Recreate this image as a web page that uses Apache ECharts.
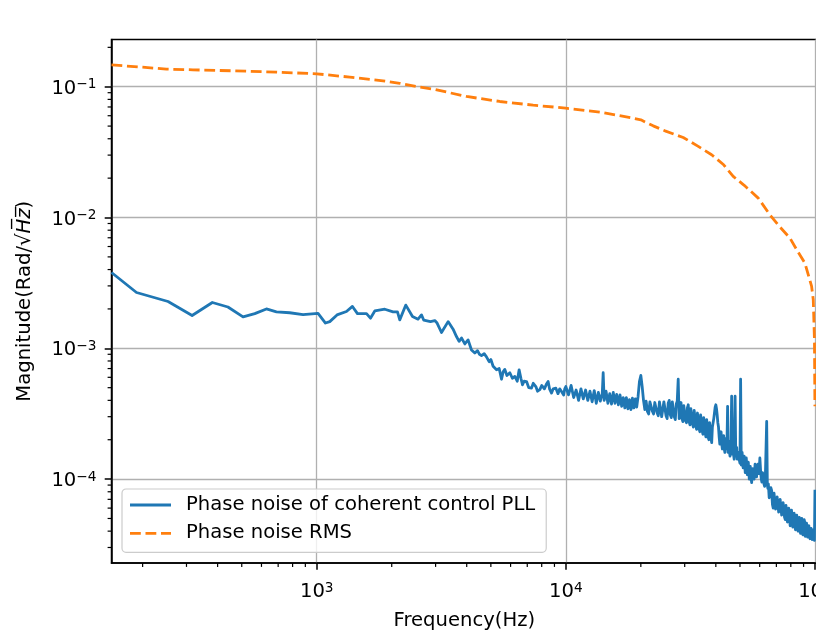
<!DOCTYPE html>
<html>
<head>
<meta charset="utf-8">
<script src="https://cdn.jsdelivr.net/npm/echarts@6.0.0/dist/echarts.min.js"></script>
<style>
  html, body { margin: 0; padding: 0; background: #fff; }
  #phase-chart { width: 816px; height: 631px; }
</style>
</head>
<body>
<div id="phase-chart"></div>
<script>
// phase noise spectrum, [frequency Hz, magnitude Rad/sqrt(Hz)]
var pllLow = [
    [150, 3.80e-3], [189, 2.67e-3], [253, 2.28e-3], [316, 1.78e-3], [381, 2.24e-3], [440, 2.07e-3],
    [506, 1.74e-3], [564, 1.84e-3], [628, 2.00e-3], [689, 1.90e-3], [779, 1.87e-3], [881, 1.81e-3],
    [1012, 1.85e-3], [1084, 1.56e-3], [1128, 1.60e-3], [1206, 1.80e-3], [1316, 1.91e-3], [1391, 2.09e-3],
    [1457, 1.84e-3], [1584, 1.84e-3], [1643, 1.70e-3], [1710, 1.93e-3], [1876, 1.99e-3], [2025, 1.90e-3],
    [2109, 1.90e-3], [2154, 1.65e-3], [2278, 2.14e-3], [2423, 1.75e-3], [2551, 1.67e-3], [2633, 1.80e-3],
    [2690, 1.64e-3], [2861, 1.60e-3], [2978, 1.63e-3], [3042, 1.56e-3], [3168, 1.32e-3], [3368, 1.60e-3],
    [3527, 1.40e-3], [3639, 1.23e-3], [3728, 1.13e-3], [3812, 1.20e-3]
];
var pllMid = [
    [3930, 1.08e-3], [4051, 1.16e-3], [4181, 9.7e-4], [4311, 9.2e-4], [4420, 9.6e-4], [4500, 9.0e-4],
    [4586, 8.8e-4], [4700, 9.1e-4], [4802, 8.6e-4], [4920, 7.9e-4], [5000, 8.2e-4], [5105, 7.3e-4],
    [5200, 7.5e-4], [5270, 6.85e-4], [5400, 7.0e-4], [5518, 5.8e-4], [5600, 6.6e-4], [5689, 6.9e-4],
    [5800, 6.2e-4], [5959, 6.5e-4], [6100, 5.9e-4], [6241, 6.1e-4], [6380, 5.6e-4], [6493, 6.85e-4],
    [6600, 5.9e-4], [6700, 5.26e-4], [6800, 5.6e-4], [6954, 5.57e-4], [7100, 5.0e-4], [7281, 4.96e-4],
    [7400, 5.4e-4], [7577, 5.1e-4], [7700, 4.7e-4], [7863, 4.83e-4], [8000, 5.2e-4], [8200, 4.9e-4],
    [8350, 5.3e-4], [8489, 5.57e-4], [8600, 4.9e-4], [8762, 4.55e-4], [8900, 4.9e-4], [9118, 4.96e-4],
    [9300, 4.5e-4], [9450, 4.9e-4], [9610, 4.68e-4], [9800, 4.4e-4], [9900, 4.9e-4]
];
var pllHigh = [
    [10000, 5.1e-4], [10250, 4.4e-4], [10500, 5.2e-4], [10750, 4.2e-4], [11000, 4.8e-4], [11250, 4.0e-4],
    [11500, 4.9e-4], [11750, 4.1e-4], [12000, 4.8e-4], [12250, 4.0e-4], [12500, 4.7e-4], [12750, 3.9e-4],
    [13000, 4.75e-4], [13250, 3.8e-4], [13500, 4.6e-4], [13750, 3.95e-4], [14000, 4.5e-4], [14120, 6.5e-4],
    [14250, 4.0e-4], [14500, 4.7e-4], [14750, 3.8e-4], [15000, 4.5e-4], [15250, 3.75e-4], [15500, 4.6e-4],
    [15750, 3.8e-4], [16000, 4.45e-4], [16250, 3.7e-4], [16500, 4.4e-4], [16750, 3.6e-4], [17000, 4.2e-4],
    [17250, 3.5e-4], [17500, 4.2e-4], [17750, 3.45e-4], [18000, 4.05e-4], [18250, 3.4e-4], [18500, 4.15e-4],
    [18750, 3.5e-4], [19000, 4.1e-4], [19250, 3.55e-4], [19500, 4.3e-4], [19750, 5.6e-4], [20000, 6.2e-4],
    [20250, 5.1e-4], [20500, 4.0e-4], [20750, 3.4e-4], [21000, 3.95e-4], [21250, 3.3e-4], [21500, 3.15e-4],
    [21750, 3.9e-4], [22000, 4.0e-4], [22250, 3.3e-4], [22500, 3.15e-4], [22750, 3.85e-4], [23000, 3.95e-4],
    [23250, 3.2e-4], [23500, 3.05e-4], [23750, 3.9e-4], [24000, 3.85e-4], [24250, 3.0e-4], [24500, 2.95e-4],
    [24750, 3.9e-4], [25000, 4.0e-4], [25250, 3.05e-4], [25500, 2.9e-4], [25750, 3.8e-4], [26000, 4.0e-4],
    [26250, 3.1e-4], [26500, 2.95e-4], [26750, 3.9e-4], [27000, 3.95e-4], [27250, 3.0e-4], [27500, 2.85e-4],
    [27750, 3.75e-4], [28000, 3.95e-4], [28250, 5.8e-4], [28500, 2.9e-4], [28750, 3.6e-4], [29000, 3.85e-4],
    [29250, 2.9e-4], [29500, 2.75e-4], [29750, 3.65e-4], [30000, 3.75e-4], [30250, 2.8e-4], [30500, 2.7e-4],
    [30750, 3.5e-4], [31000, 3.7e-4], [31250, 2.75e-4], [31500, 2.6e-4], [31750, 3.45e-4], [32000, 3.55e-4],
    [32250, 2.65e-4], [32500, 2.5e-4], [32750, 3.35e-4], [33000, 3.45e-4], [33250, 2.55e-4], [33500, 2.4e-4],
    [33750, 3.2e-4], [34000, 3.3e-4], [34250, 2.45e-4], [34500, 2.3e-4], [34750, 3.1e-4], [35000, 3.2e-4],
    [35250, 2.35e-4], [35500, 2.2e-4], [35750, 2.95e-4], [36000, 3.05e-4], [36250, 2.25e-4], [36500, 2.1e-4],
    [36750, 2.85e-4], [37000, 2.9e-4], [37250, 2.1e-4], [37500, 2.0e-4], [37750, 2.7e-4], [38000, 2.75e-4],
    [38250, 2.05e-4], [38500, 1.9e-4], [38750, 2.5e-4], [39000, 2.7e-4], [39250, 2.9e-4], [39500, 3.2e-4],
    [39750, 3.55e-4], [40000, 3.7e-4], [40250, 3.45e-4], [40500, 3.1e-4], [40750, 2.7e-4], [41000, 2.5e-4],
    [41250, 2.1e-4], [41500, 1.85e-4], [41750, 2.15e-4], [42000, 2.3e-4], [42250, 1.85e-4], [42500, 1.7e-4],
    [42750, 2.05e-4], [43000, 2.15e-4], [43250, 1.7e-4], [43500, 1.6e-4], [43750, 1.95e-4], [44000, 2.05e-4],
    [44300, 1.7e-4], [44600, 3.6e-4], [44800, 1.6e-4], [45000, 1.85e-4], [45200, 1.95e-4], [45400, 1.6e-4],
    [45600, 1.5e-4], [45800, 1.8e-4], [46000, 1.9e-4], [46300, 4.3e-4], [46600, 1.55e-4], [46800, 1.75e-4],
    [47000, 1.85e-4], [47200, 1.5e-4], [47400, 1.42e-4], [47800, 4.3e-4], [48100, 1.5e-4], [48300, 1.65e-4],
    [48500, 1.75e-4], [48750, 1.42e-4], [49000, 1.38e-4], [49250, 1.6e-4], [49500, 1.65e-4], [49750, 1.38e-4],
    [50000, 1.32e-4], [50300, 5.8e-4], [50600, 1.28e-4], [51000, 1.6e-4], [51500, 1.22e-4], [52000, 1.5e-4],
    [52500, 1.12e-4], [53000, 1.45e-4], [53500, 1.08e-4], [54000, 1.35e-4], [54500, 1.0e-4], [55000, 1.25e-4],
    [55350, 1.05e-4], [55700, 9.4e-5], [56200, 1.2e-4], [56600, 1.05e-4], [57000, 1.0e-4], [57500, 1.3e-4],
    [57900, 1.1e-4], [58300, 1.04e-4], [58600, 1.25e-4], [59000, 1.3e-4], [59300, 1.15e-4], [59600, 1.1e-4],
    [60100, 1.45e-4], [60600, 1.1e-4], [60900, 1.0e-4], [61200, 9.5e-5], [61600, 1.12e-4], [62000, 1.08e-4],
    [62400, 9.2e-5], [62800, 8.8e-5], [63200, 1.02e-4], [63500, 1.0e-4], [64000, 2.76e-4], [64400, 9.0e-5],
    [64700, 8.5e-5], [65000, 9.2e-5], [65500, 7.2e-5], [66000, 7.0e-5], [66500, 8.6e-5], [67000, 8.2e-5],
    [67500, 6.4e-5], [68000, 6.0e-5], [68500, 7.8e-5], [69000, 7.6e-5], [69500, 5.9e-5], [70000, 5.8e-5],
    [70500, 7.3e-5], [71000, 7.1e-5], [71500, 5.6e-5], [72000, 5.5e-5], [72500, 7.0e-5], [73000, 6.8e-5],
    [73500, 5.3e-5], [74000, 5.2e-5], [74500, 6.6e-5], [75000, 6.4e-5], [75500, 5.1e-5], [76000, 4.9e-5],
    [76500, 6.3e-5], [77000, 6.2e-5], [77500, 4.7e-5], [78000, 4.6e-5], [78500, 6.0e-5], [79000, 5.9e-5],
    [79500, 4.4e-5], [80000, 4.3e-5], [80500, 5.8e-5], [81000, 5.6e-5], [81500, 4.3e-5], [82000, 4.2e-5],
    [82500, 5.5e-5], [83000, 5.4e-5], [83500, 4.1e-5], [84000, 4.1e-5], [84500, 5.3e-5], [85000, 5.2e-5],
    [85500, 4.0e-5], [86000, 3.95e-5], [86500, 5.1e-5], [87000, 5.0e-5], [87500, 3.85e-5], [88000, 3.8e-5],
    [88500, 5.0e-5], [89000, 4.9e-5], [89500, 3.75e-5], [90000, 3.7e-5], [90500, 4.9e-5], [91000, 4.7e-5],
    [91500, 3.65e-5], [92000, 3.6e-5], [92500, 4.6e-5], [93000, 4.5e-5], [93500, 3.6e-5], [94000, 3.55e-5],
    [94500, 4.4e-5], [95000, 4.3e-5], [95500, 3.5e-5], [96000, 3.5e-5], [96500, 4.2e-5], [97000, 4.1e-5],
    [97500, 3.45e-5], [98000, 3.45e-5], [98500, 4.1e-5], [99000, 4.0e-5], [99500, 3.4e-5], [100000, 8.3e-5]
];
var rmsNoise = [
    [150, 0.147], [249, 0.1364], [318, 0.1346], [461, 0.1323], [689, 0.1293], [1000, 0.1255],
    [1357, 0.1184], [1846, 0.1110], [2154, 0.1062], [2593, 0.0993], [2932, 0.0959], [3994, 0.0842],
    [5430, 0.0771], [7390, 0.0723], [9970, 0.0686], [13690, 0.0639], [18630, 0.0575], [20000, 0.0558],
    [22420, 0.0502], [25000, 0.0460], [29590, 0.0409], [34000, 0.0350], [38470, 0.0302], [43000, 0.0253],
    [46970, 0.0206], [52000, 0.01763], [59200, 0.01407], [65960, 0.01048], [72000, 0.00855], [79350, 0.00696],
    [85000, 0.00556], [91150, 0.00448], [96970, 0.00297], [98450, 0.00235], [99540, 0.00116], [99950, 3.6e-4]
];

var xMajorTicks = [1e3, 1e4, 1e5];
var xMinorTicks = [200, 300, 400, 500, 600, 700, 800, 900,
    2000, 3000, 4000, 5000, 6000, 7000, 8000, 9000,
    20000, 30000, 40000, 50000, 60000, 70000, 80000, 90000];
var yMajorTicks = [1e-4, 1e-3, 1e-2, 1e-1];
var yMinorTicks = [3e-5, 4e-5, 5e-5, 6e-5, 7e-5, 8e-5, 9e-5,
    2e-4, 3e-4, 4e-4, 5e-4, 6e-4, 7e-4, 8e-4, 9e-4,
    2e-3, 3e-3, 4e-3, 5e-3, 6e-3, 7e-3, 8e-3, 9e-3,
    2e-2, 3e-2, 4e-2, 5e-2, 6e-2, 7e-2, 8e-2, 9e-2, 2e-1];

var FONT = 'DejaVu Sans';
var FS = 19.6;
var MINOR_LEN = 3.9;

var xMin = 150, xMax = 1.02e5;
var yMin = 2.283e-5, yMax = 0.2296;

var chart = echarts.init(document.getElementById('phase-chart'), null, { renderer: 'canvas' });

function powLabel(value) {
    var exp = Math.round(Math.log10(value));
    var s = exp < 0 ? '\u2212' + (-exp) : String(exp);
    return '{b|10}{s|' + s + '}';
}

var powRich = {
    b: { fontFamily: FONT, fontSize: FS, lineHeight: 22, color: '#000' },
    s: { fontFamily: FONT, fontSize: 13.7, lineHeight: 12, verticalAlign: 'top', color: '#000' }
};

// short 2..9 ticks, placed through the axis scale with api.coord
function minorTickSeries(values, onX) {
    return {
        type: 'custom',
        coordinateSystem: 'cartesian2d',
        silent: true, clip: false, z: 5,
        data: values.map(function (v) { return onX ? [v, yMin] : [xMin, v]; }),
        renderItem: function (params, api) {
            var p = api.coord([api.value(0), api.value(1)]);
            var shape = onX
                ? { x1: p[0], y1: p[1], x2: p[0], y2: p[1] + MINOR_LEN }
                : { x1: p[0], y1: p[1], x2: p[0] - MINOR_LEN, y2: p[1] };
            return { type: 'line', shape: shape, style: { stroke: '#000', lineWidth: 1.2 } };
        }
    };
}

var option = {
    animation: false,
    backgroundColor: '#fff',
    textStyle: { fontFamily: FONT, color: '#000' },
    grid: {
        left: 111.5, right: -1.1, top: 39.5, bottom: 68,
        show: true, borderColor: '#000', borderWidth: 1.5, backgroundColor: 'transparent',
        containLabel: false, outerBoundsMode: 'none'
    },
    legend: {
        orient: 'vertical',
        left: 122, top: 489,
        itemWidth: 41, itemHeight: 14, itemGap: 6.3,
        padding: [5, 11, 8, 6.6],
        backgroundColor: 'rgba(255,255,255,0.8)',
        borderColor: '#cccccc', borderWidth: 1.2, borderRadius: 4,
        selectedMode: false,
        itemStyle: { opacity: 0 },
        lineStyle: { width: 2.8 },
        formatter: '{t|{name}}',
        textStyle: {
            fontFamily: FONT, fontSize: FS, color: '#000', lineHeight: 22,
            rich: { t: { fontFamily: FONT, fontSize: FS, lineHeight: 22, color: '#000', padding: [0, 0, 0, 10] } }
        },
        data: ['Phase noise of coherent control PLL', 'Phase noise RMS']
    },
    xAxis: {
        type: 'log', logBase: 10, min: xMin, max: xMax,
        name: 'Frequency(Hz)', nameLocation: 'middle', nameGap: 47,
        nameTextStyle: { fontFamily: FONT, fontSize: FS, color: '#000', lineHeight: 22 },
        axisLine: { show: true, lineStyle: { color: '#000', width: 1.5 } },
        axisTick: { customValues: xMajorTicks, length: 6.8, lineStyle: { color: '#000', width: 1.5 } },
        axisLabel: { customValues: xMajorTicks, formatter: powLabel, margin: 18, rich: powRich },
        splitLine: { show: true, lineStyle: { color: '#b0b0b0', width: 1.3 } },
        minorTick: { show: false }
    },
    yAxis: {
        type: 'log', logBase: 10, min: yMin, max: yMax,
        name: '{n|Magnitude(Rad/\u221A}{i|H\u0305z\u0305}{n|)}',
        nameLocation: 'middle', nameGap: 76,
        nameTextStyle: {
            fontFamily: FONT, fontSize: FS, color: '#000', lineHeight: 22,
            rich: {
                n: { fontFamily: FONT, fontSize: FS, lineHeight: 22, color: '#000' },
                i: { fontFamily: FONT, fontSize: FS, lineHeight: 22, fontStyle: 'italic', color: '#000' }
            }
        },
        axisLine: { show: true, lineStyle: { color: '#000', width: 1.5 } },
        axisTick: { customValues: yMajorTicks, length: 6.8, lineStyle: { color: '#000', width: 1.5 } },
        axisLabel: { customValues: yMajorTicks, formatter: powLabel, margin: 15, padding: [4, 0, 0, 0], rich: powRich },
        splitLine: { show: true, lineStyle: { color: '#b0b0b0', width: 1.3 } },
        minorTick: { show: false }
    },
    series: [
        {
            name: 'Phase noise of coherent control PLL',
            type: 'line',
            data: pllLow.concat(pllMid, pllHigh),
            symbol: 'none', showSymbol: false,
            lineStyle: { color: '#1f77b4', width: 2.8, join: 'round' },
            itemStyle: { color: '#1f77b4' },
            emphasis: { disabled: true },
            z: 2
        },
        {
            name: 'Phase noise RMS',
            type: 'line',
            data: rmsNoise,
            symbol: 'none', showSymbol: false,
            lineStyle: { color: '#ff7f0e', width: 2.8, type: [10.8, 4.7] },
            itemStyle: { color: '#ff7f0e' },
            emphasis: { disabled: true },
            z: 3
        },
        minorTickSeries(xMinorTicks, true),
        minorTickSeries(yMinorTicks, false)
    ]
};

chart.setOption(option);
</script>
</body>
</html>
